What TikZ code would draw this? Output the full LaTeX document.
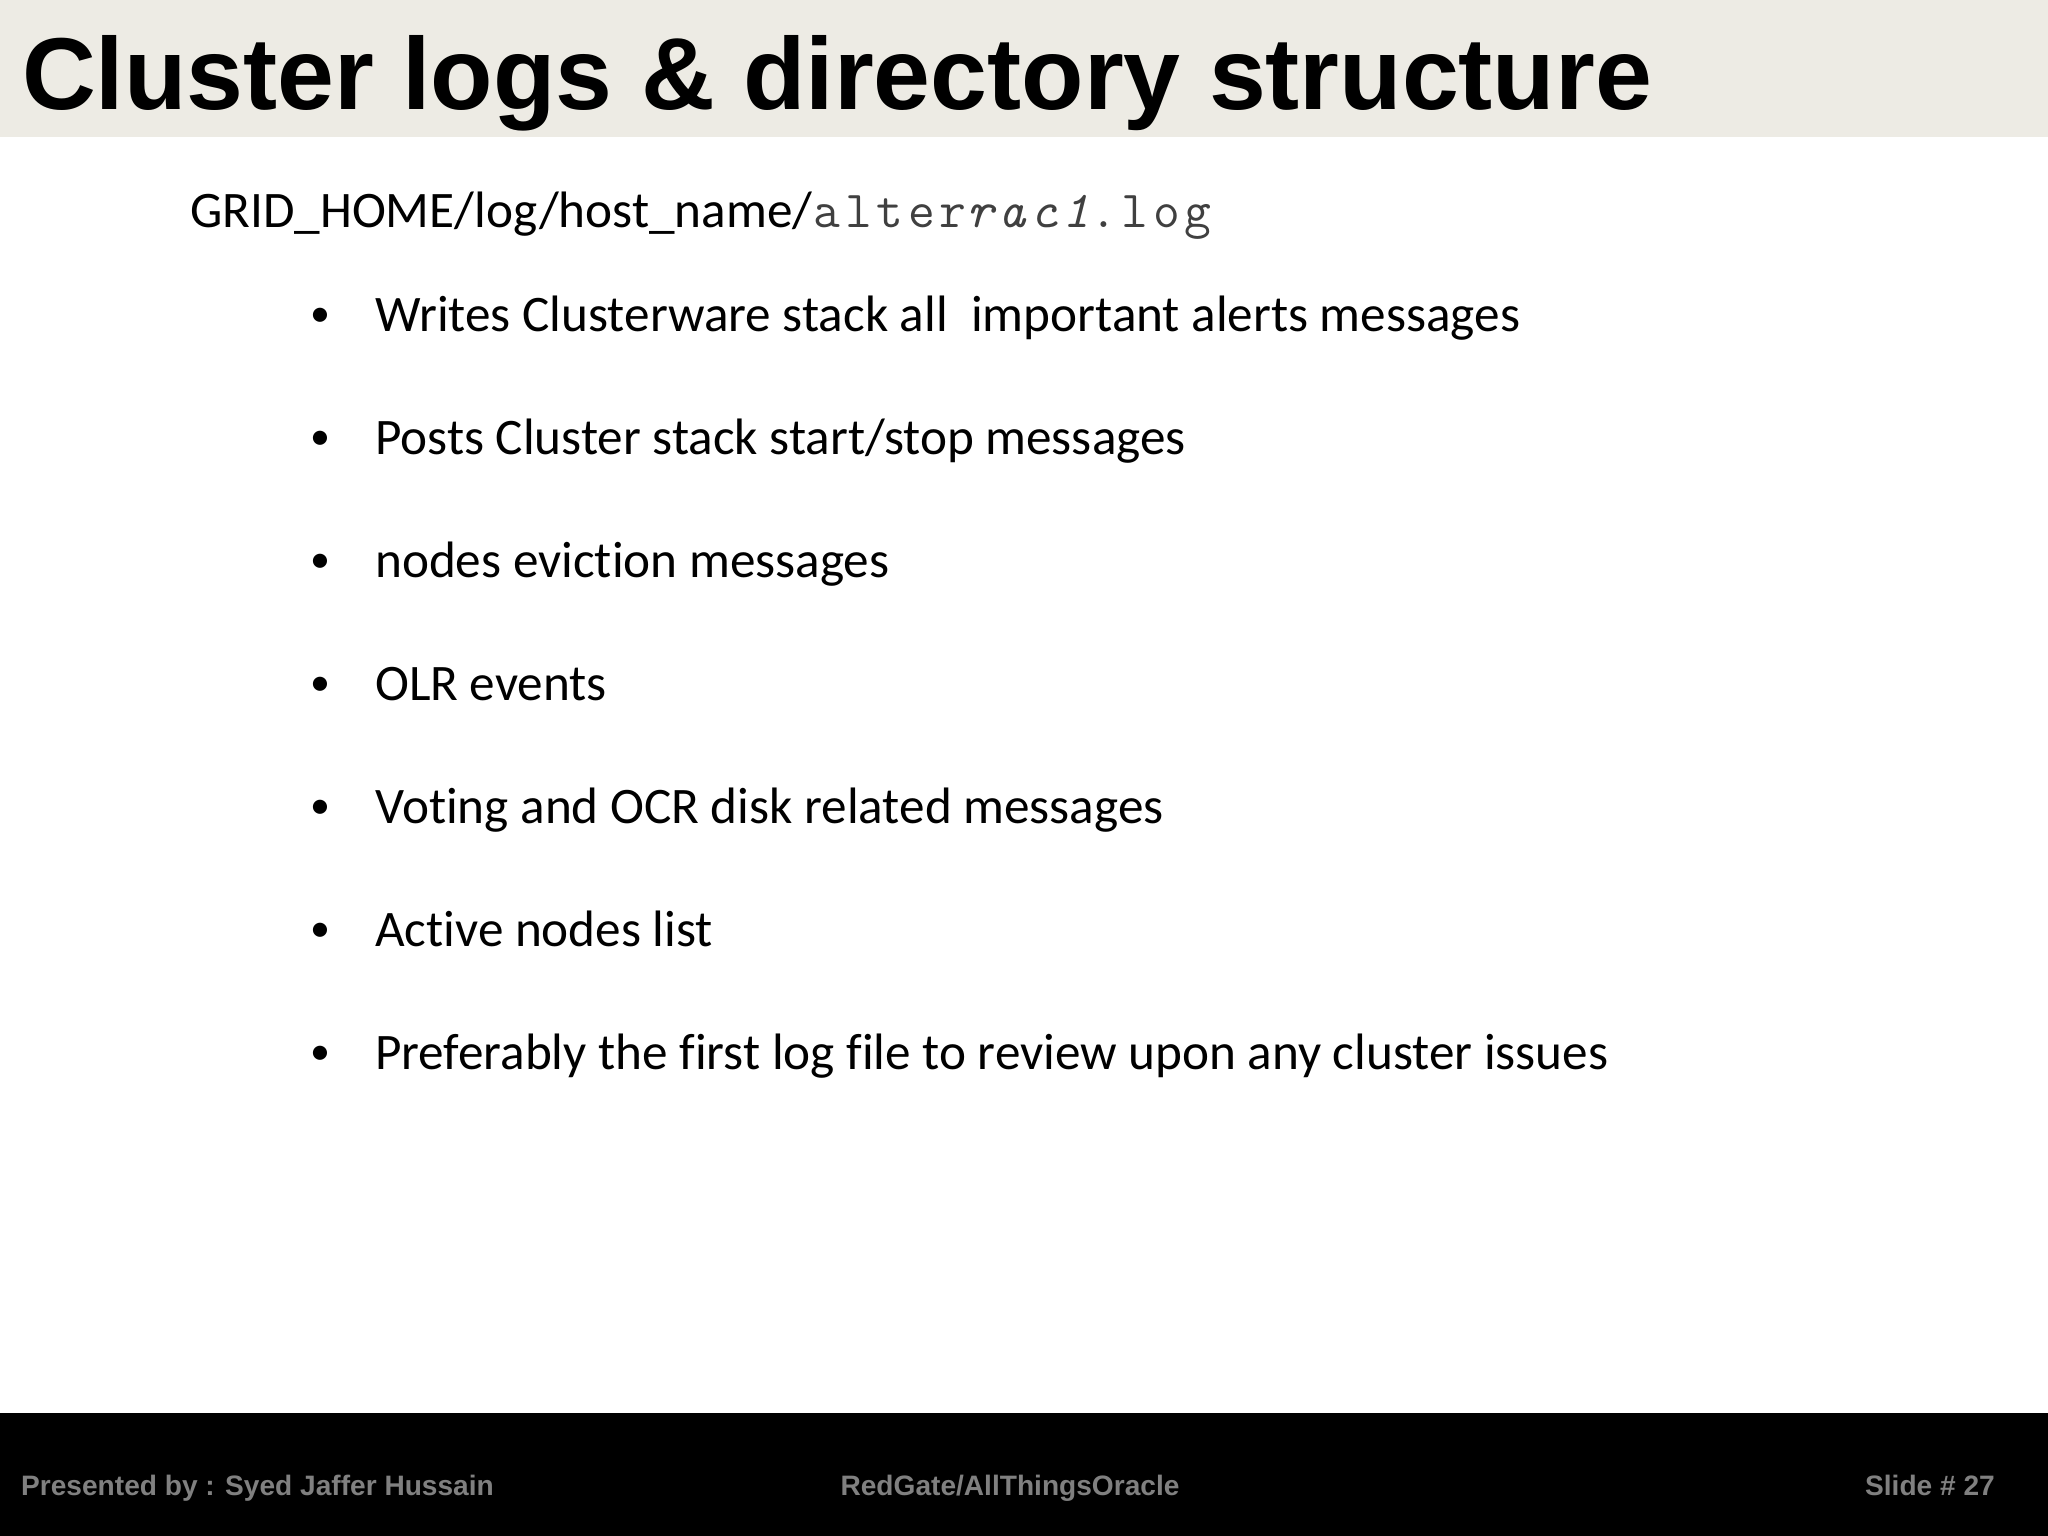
\documentclass[tikz,border=0pt]{standalone}
\usepackage{fontspec}
\setmainfont{Carlito}[Ligatures=NoCommon]
\setmonofont{Latin Modern Mono}[LetterSpace=9.2]
\newfontfamily\headfont{Liberation Sans}
\usepackage{tikz}
\usetikzlibrary{positioning}
\definecolor{hdrgray}{RGB}{237,235,228}
\definecolor{ftrgray}{RGB}{128,128,128}
\definecolor{pathgray}{RGB}{64,64,64}
\tikzset{
  itemtext/.style={anchor=base west,inner sep=0pt,font=\fontsize{51.2}{51}\selectfont,text=black},
  itemdot/.style={anchor=base,inner sep=0pt,font=\fontsize{40}{40}\selectfont,text=black},
  ftrtext/.style={anchor=base,inner sep=0pt,font=\headfont\bfseries\fontsize{28.1}{28}\selectfont,text=ftrgray}
}
\begin{document}
\begin{tikzpicture}[x=1pt,y=-1pt]
\useasboundingbox (0,0) rectangle (2048,1536);
% Bands
\fill[hdrgray] (0,0) rectangle (2048,137);
\fill[black] (0,1413) rectangle (2048,1536);

% Title
\node[anchor=base west,inner sep=0pt,font=\headfont\bfseries\fontsize{102.2}{102}\selectfont] (title) at (22,110) {Cluster logs \& directory structure};

% Path
\node[itemtext] (pathname) at (190,227) {GRID\_HOME/log/host\_name/\kern1pt\textcolor{pathgray}{\ttfamily\fontsize{52}{52}\selectfont alter\textsl{rac1}.log}};

% Bullets
\foreach \ypos/\itemlabel in {
  331/{Writes Clusterware stack all\ \ important alerts messages},
  454/{Posts Cluster stack start/stop messages},
  577/{nodes eviction messages},
  700/{OLR events},
  823/{Voting and OCR disk related messages},
  946/{Active nodes list},
  1069/{Preferably the first log file to review upon any cluster issues}}{
  \node[itemdot] at (320,\ypos-5) {\textbullet};
  \node[itemtext] at (375,\ypos) {\itemlabel};
}

% Footer
\node[ftrtext,anchor=base west] (presenter) at (21,1495) {Presented by : Syed Jaffer Hussain};
\node[ftrtext] (venue) at (1010,1495) {RedGate/AllThingsOracle};
\node[ftrtext,anchor=base east] (slideno) at (1995,1495) {Slide \# 27};
\end{tikzpicture}
\end{document}
